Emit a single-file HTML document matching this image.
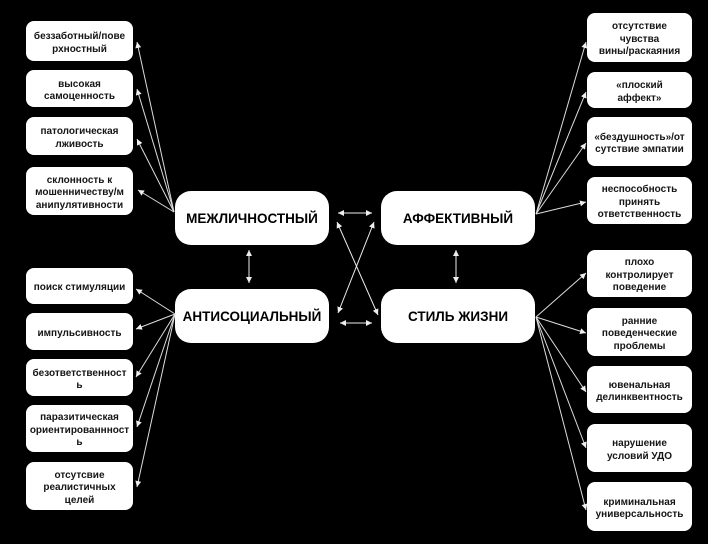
<!DOCTYPE html>
<html><head><meta charset="utf-8">
<style>
html,body{margin:0;padding:0;background:#000;}
body{width:708px;height:544px;position:relative;overflow:hidden;font-family:"Liberation Sans","DejaVu Sans",sans-serif;}
.b{position:absolute;box-sizing:border-box;padding-top:5px;background:#fff;color:#151515;border-radius:8px;display:flex;align-items:center;justify-content:center;text-align:center;font-size:10px;font-weight:bold;line-height:12.5px;white-space:nowrap;}
.L{left:26px;width:107px;}
.R{left:587px;width:105px;}
.m{position:absolute;background:#fff;color:#000;border-radius:16px;display:flex;align-items:center;justify-content:center;font-size:13.5px;font-weight:bold;width:154px;height:54px;white-space:nowrap;}
svg{position:absolute;left:0;top:0;}
</style></head><body>
<div class="b L" style="top:21px;height:40px">беззаботный/пове<br>рхностный</div>
<div class="b L" style="top:70px;height:37px">высокая<br>самоценность</div>
<div class="b L" style="top:117px;height:38px">патологическая<br>лживость</div>
<div class="b L" style="top:167px;height:48px">склонность к<br>мошенничеству/м<br>анипулятивности</div>
<div class="b L" style="top:268px;height:36px">поиск стимуляции</div>
<div class="b L" style="top:313px;height:37px">импульсивность</div>
<div class="b L" style="top:359px;height:37px">безответственност<br>ь</div>
<div class="b L" style="top:405px;height:47px">паразитическая<br>ориентированнност<br>ь</div>
<div class="b L" style="top:462px;height:48px">отсутсвие<br>реалистичных<br>целей</div>

<div class="b R" style="top:13px;height:49px">отсутствие<br>чувства<br>вины/раскаяния</div>
<div class="b R" style="top:72px;height:36px">«плоский<br>аффект»</div>
<div class="b R" style="top:117px;height:49px">«бездушность»/от<br>сутствие эмпатии</div>
<div class="b R" style="top:177px;height:47px">неспособность<br>принять<br>ответственность</div>
<div class="b R" style="top:250px;height:47px">плохо<br>контролирует<br>поведение</div>
<div class="b R" style="top:308px;height:48px">ранние<br>поведенческие<br>проблемы</div>
<div class="b R" style="top:366px;height:47px">ювенальная<br>делинквентность</div>
<div class="b R" style="top:424px;height:48px">нарушение<br>условий УДО</div>
<div class="b R" style="top:482px;height:49px">криминальная<br>универсальность</div>

<div class="m" style="left:175px;top:191px">МЕЖЛИЧНОСТНЫЙ</div>
<div class="m" style="left:381px;top:191px">АФФЕКТИВНЫЙ</div>
<div class="m" style="left:175px;top:289px">АНТИСОЦИАЛЬНЫЙ</div>
<div class="m" style="left:381px;top:289px">СТИЛЬ ЖИЗНИ</div>

<svg width="708" height="544" viewBox="0 0 708 544">
<defs>
<marker id="a" markerUnits="userSpaceOnUse" markerWidth="7" markerHeight="6" refX="6" refY="3" orient="auto-start-reverse">
<path d="M0,0 L6,3 L0,6 z" fill="#eee"/>
</marker>
</defs>
<g stroke="#ddd" stroke-width="1" fill="none" marker-end="url(#a)">
<line x1="174" y1="212" x2="137" y2="42"/>
<line x1="174" y1="212" x2="137" y2="89"/>
<line x1="174" y1="212" x2="137" y2="139"/>
<line x1="174" y1="212" x2="138" y2="190"/>

<line x1="175" y1="314" x2="136" y2="289"/>
<line x1="175" y1="314" x2="136" y2="329"/>
<line x1="175" y1="314" x2="136" y2="377"/>
<line x1="175" y1="314" x2="137" y2="427"/>
<line x1="175" y1="314" x2="137" y2="487"/>

<line x1="536" y1="214" x2="586" y2="42"/>
<line x1="536" y1="214" x2="586" y2="92"/>
<line x1="536" y1="214" x2="586" y2="143"/>
<line x1="536" y1="214" x2="586" y2="202"/>

<line x1="536" y1="317" x2="586" y2="273"/>
<line x1="536" y1="317" x2="586" y2="333"/>
<line x1="536" y1="317" x2="586" y2="392"/>
<line x1="536" y1="317" x2="586" y2="448"/>
<line x1="536" y1="317" x2="586" y2="510"/>
</g>
<g stroke="#eee" stroke-width="1" fill="none" marker-end="url(#a)" marker-start="url(#a)">
<line x1="338" y1="213" x2="372" y2="213"/>
<line x1="340" y1="323" x2="372" y2="323"/>
<line x1="249" y1="250" x2="249" y2="283"/>
<line x1="456" y1="250" x2="456" y2="283"/>
<line x1="337" y1="222" x2="378" y2="315"/>
<line x1="374" y1="222" x2="338" y2="313"/>
</g>
</svg>
</body></html>
